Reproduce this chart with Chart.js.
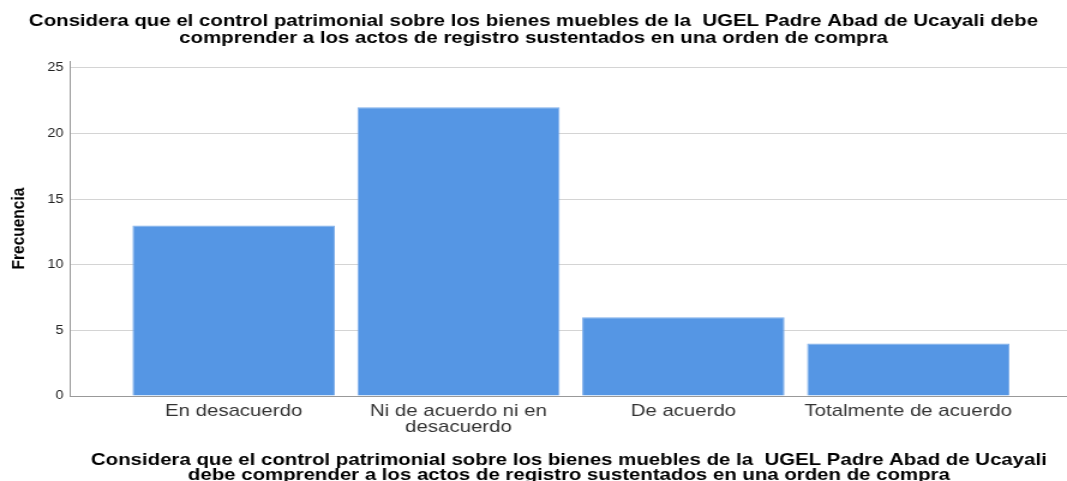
<!DOCTYPE html>
<html>
<head>
<meta charset="utf-8">
<script src="https://cdn.jsdelivr.net/npm/chart.js@4/dist/chart.umd.min.js"></script>
<style>
  html, body { margin: 0; padding: 0; background: #fff; overflow: hidden; }
  /* the SPSS export is stretched sideways, so draw narrower and stretch the same way */
  #wrap { width: 889px; height: 481px; transform: scaleX(1.2002); transform-origin: 0 0; }
</style>
</head>
<body>
<div id="wrap"><canvas id="chart"></canvas></div>
<script>
// Data
const CATEGORIES = ['En desacuerdo', ['Ni de acuerdo ni en', 'desacuerdo'], 'De acuerdo', 'Totalmente de acuerdo'];
const FRECUENCIA = [13, 22, 6, 4];
const Y_TICKS = [0, 5, 10, 15, 20, 25];
const TITLE = [
  'Considera que el control patrimonial sobre los bienes muebles de la  UGEL Padre Abad de Ucayali debe',
  'comprender a los actos de registro sustentados en una orden de compra'
];
const X_TITLE = [
  'Considera que el control patrimonial sobre los bienes muebles de la  UGEL Padre Abad de Ucayali',
  'debe comprender a los actos de registro sustentados en una orden de compra'
];

const BAR_COLOR = '#5596e4';
const FONT = "'Liberation Sans', Arial, sans-serif";

// SPSS leaves empty room left/right of the bars, so use a numeric x axis
const points = FRECUENCIA.map((v, i) => ({ x: i + 1, y: v }));

new Chart(document.getElementById('chart'), {
  type: 'bar',
  data: {
    datasets: [{
      data: points,
      backgroundColor: BAR_COLOR,
      borderColor: '#7eaeea',
      borderWidth: 1,
      borderSkipped: 'bottom',
      categoryPercentage: 1,
      barPercentage: 0.9,
    }]
  },
  options: {
    responsive: true,
    maintainAspectRatio: false,
    animation: false,
    layout: { padding: 0 },
    plugins: {
      legend: { display: false },
      tooltip: { enabled: false },
      title: {
        display: true,
        text: TITLE,
        color: '#000',
        font: { family: FONT, size: 17, weight: 'bold', lineHeight: 1.0 },
        padding: { top: 13, bottom: 14 },
      },
    },
    scales: {
      x: {
        type: 'linear',
        offset: false,
        min: 0.2756,
        max: 4.706,
        afterBuildTicks: s => { s.ticks = CATEGORIES.map((c, i) => ({ value: i + 1 })); },
        grid: { display: false, drawTicks: false },
        border: { display: true, color: '#999', width: 1 },
        ticks: {
          autoSkip: false,
          maxRotation: 0,
          padding: 7,
          color: '#333',
          font: { family: FONT, size: 17, lineHeight: 0.94 },
          callback: v => CATEGORIES[v - 1],
        },
        title: {
          display: true,
          text: X_TITLE,
          color: '#000',
          font: { family: FONT, size: 17, weight: 'bold', lineHeight: 0.88 },
          padding: { top: 11, bottom: -2 },
        },
      },
      y: {
        min: 0,
        max: 25.53,
        afterBuildTicks: s => { s.ticks = Y_TICKS.map(v => ({ value: v })); },
        grid: { color: '#d4d4d4', drawTicks: false },
        border: { display: true, color: '#999', width: 1 },
        ticks: {
          padding: 6,
          color: '#222',
          font: { family: FONT, size: 12 },
        },
        title: {
          display: true,
          text: 'Frecuencia',
          color: '#000',
          font: { family: FONT, size: 15.5, weight: 'bold', lineHeight: 1.2 },
          padding: { top: 6, bottom: 9 },
        },
      },
    },
  },
});
</script>
</body>
</html>
